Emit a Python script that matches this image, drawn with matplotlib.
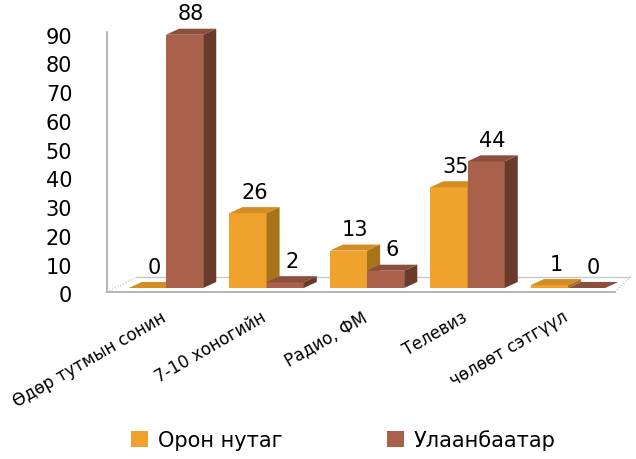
import matplotlib
matplotlib.use("Agg")
import matplotlib.pyplot as plt
from matplotlib.patches import Polygon, Patch
import matplotlib.transforms as mtransforms
import numpy as np

categories = ["Өдөр тутмын сонин", "7-10 хоногийн", "Радио, ФМ", "Телевиз", "чөлөөт сэтгүүл"]
series_names = ["Орон нутаг", "Улаанбаатар"]
oron_nutag = [0, 26, 13, 35, 1]
ulaanbaatar = [88, 2, 6, 44, 0]
y_ticks = list(range(0, 100, 10))

plt.rcParams['font.family'] = ['DejaVu Sans']

W, H = 636, 460
fig = plt.figure(figsize=(W / 100, H / 100), dpi=100)
ax = fig.add_axes([107 / W, (H - 289) / H, 513 / W, 259 / H])
ax.set_xlim(-0.587, 4.517)
ax.set_ylim(0, 90)
for s in ax.spines.values():
    s.set_visible(False)

bw = 0.37
dx = 0.13
dy = 2.1
ypp = 90 / 259.0  # data units per pixel (y)

# floor / wall decoration
grey = "#a8a8a8"
ax.plot([-0.587, -0.587], [-4 * ypp, 89], color=grey, lw=1.2, clip_on=False, zorder=1)
ax.plot([-0.587, 4.468], [-4 * ypp, -4 * ypp], color=grey, lw=1.2, clip_on=False, zorder=1)
ax.plot([-0.289, 4.62], [11 * ypp, 11 * ypp], color="#c8c8c8", lw=1.0, clip_on=False, zorder=1)
ax.plot([-0.587, -0.289], [-4 * ypp, 11 * ypp], color="#b8b8b8", lw=0.8, ls=":", clip_on=False, zorder=1)
ax.plot([4.468, 4.62], [-4 * ypp, 11 * ypp], color="#b8b8b8", lw=0.8, ls=":", clip_on=False, zorder=1)

x = np.arange(len(categories))
colors = [
    ("#F0A22E", "#D38D22", "#A8741A"),  # front, top, side
    ("#A9614B", "#8C4F3D", "#6A3A2C"),
]

for si, (vals, offs) in enumerate([(oron_nutag, -bw / 2), (ulaanbaatar, bw / 2)]):
    front, top, side = colors[si]
    bars = ax.bar(x + offs, vals, width=bw, color=front, edgecolor="none",
                  zorder=3 + si, clip_on=False)
    for rect, v in zip(bars, vals):
        x0 = rect.get_x()
        w = rect.get_width()
        h = rect.get_height()
        ax.add_patch(Polygon([(x0, h), (x0 + w, h), (x0 + w + dx, h + dy), (x0 + dx, h + dy)],
                             closed=True, facecolor=top, edgecolor="none", zorder=3 + si, clip_on=False))
        ax.add_patch(Polygon([(x0 + w, 0), (x0 + w + dx, dy), (x0 + w + dx, h + dy), (x0 + w, h)],
                             closed=True, facecolor=side, edgecolor="none", zorder=3 + si, clip_on=False))
        ax.annotate(str(v), (x0 + w / 2 + dx / 2, h + dy), xytext=(0, 11), textcoords="offset points",
                    ha="center", va="center", fontsize=15, color="black", zorder=10)

# y ticks
ax.set_yticks(y_ticks)
ax.set_yticklabels([str(t) for t in y_ticks], fontsize=15)
ax.tick_params(axis="y", length=0, pad=25)
off = mtransforms.ScaledTranslation(0, -0.055, fig.dpi_scale_trans)
for lab in ax.get_yticklabels():
    lab.set_transform(lab.get_transform() + off)

# x ticks
ax.set_xticks(x)
ax.set_xticklabels(categories, fontsize=12, rotation=30, ha="right", va="top", rotation_mode="anchor")
ax.tick_params(axis="x", length=0, pad=14)
offx = mtransforms.ScaledTranslation(-0.06, 0, fig.dpi_scale_trans)
for lab in ax.get_xticklabels():
    lab.set_transform(lab.get_transform() + offx)

handles = [Patch(facecolor=colors[0][0]), Patch(facecolor=colors[1][0])]
fig.legend(handles, series_names, loc="center", bbox_to_anchor=(0.54, 0.042), ncol=2,
           frameon=False, handlelength=0.8, handleheight=0.8, handletextpad=0.5,
           columnspacing=5, fontsize=15)

fig.savefig("out.png", dpi=100)
